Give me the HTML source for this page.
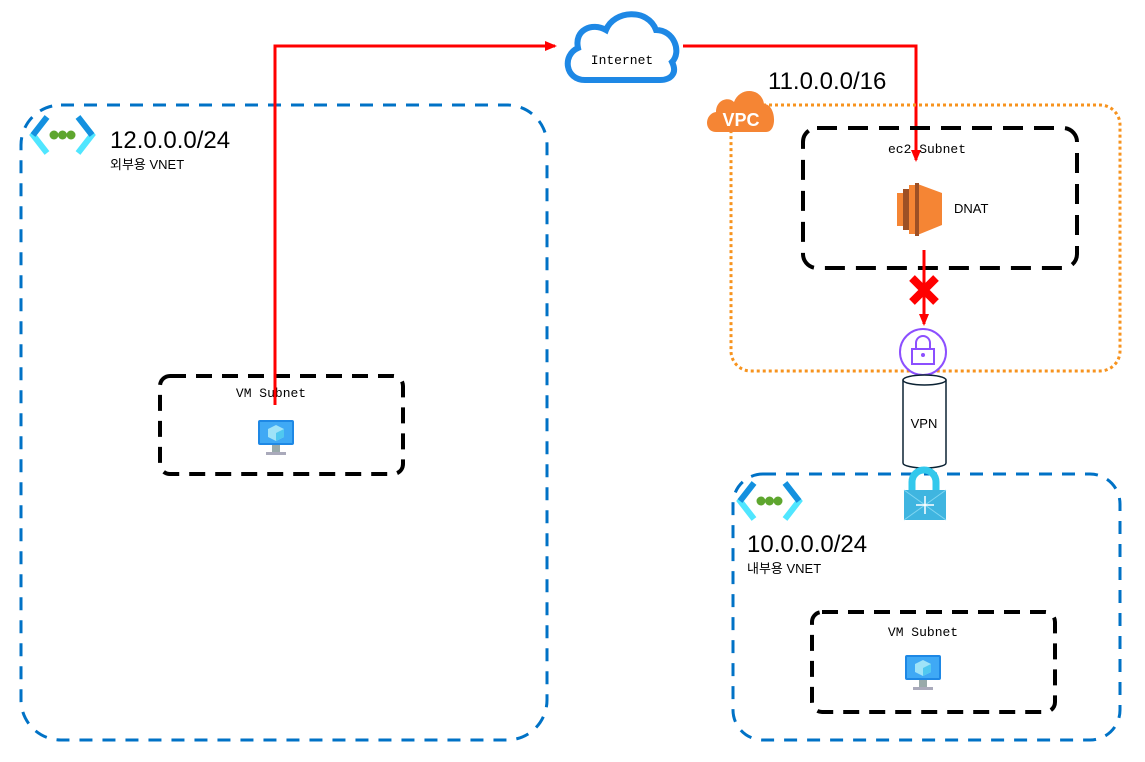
<!DOCTYPE html>
<html><head><meta charset="utf-8"><style>
body{margin:0;background:#fff;}
svg{display:block;}
.m{font-family:"Liberation Mono","Noto Sans CJK KR",monospace;}
.s{font-family:"Liberation Sans","Noto Sans CJK KR",sans-serif;}
</style></head><body>
<svg width="1145" height="762" viewBox="0 0 1145 762" xmlns="http://www.w3.org/2000/svg">
<defs>
<marker id="ar" markerWidth="12" markerHeight="12" refX="10" refY="6" orient="auto" markerUnits="userSpaceOnUse"><path d="M0,1 L12,6 L0,11 z" fill="#f00"/></marker>
<g id="vm">
<rect x="-18" y="-20" width="36" height="25" rx="2" fill="#1E88E5"/>
<rect x="-16" y="-18" width="32" height="21" fill="#3FA9F5"/>
<path d="M0,-15 L8,-11 L8,-3 L0,1 L-8,-3 L-8,-11z" fill="#9FE3F8"/>
<path d="M0,-7 L8,-11 L8,-3 L0,1z" fill="#50C8F0"/>
<rect x="-4" y="5" width="8" height="7" fill="#9aa"/>
<rect x="-10" y="12" width="20" height="3" fill="#aab"/>
</g>
<g id="net">
<path d="M17,3 L3,21 L17,39" fill="none" stroke="#50E6FF" stroke-width="6"/>
<path d="M17,3 L3,21" fill="none" stroke="#1490DF" stroke-width="6"/>
<path d="M48,3 L62,21 L48,39" fill="none" stroke="#50E6FF" stroke-width="6"/>
<path d="M48,3 L62,21" fill="none" stroke="#1490DF" stroke-width="6"/>
<circle cx="24" cy="21" r="4.5" fill="#5EA62E"/><circle cx="32.5" cy="21" r="4.5" fill="#5EA62E"/><circle cx="41" cy="21" r="4.5" fill="#5EA62E"/>
</g>
</defs>

<rect x="21" y="105" width="526" height="635" rx="40" fill="none" stroke="#0072C6" stroke-width="3" stroke-dasharray="13,10"/>
<use href="#net" x="30" y="114"/>
<text x="110" y="148" class="s" font-size="24">12.0.0.0/24</text>
<text x="110" y="169" class="s" font-size="13">외부용 VNET</text>

<rect x="160" y="376" width="243" height="98" rx="10" fill="none" stroke="#000" stroke-width="4" stroke-dasharray="16,10"/>
<text x="271" y="397" class="m" font-size="13" text-anchor="middle">VM Subnet</text>
<use href="#vm" x="276" y="440"/>

<polyline points="275,405 275,46 555,46" fill="none" stroke="#f00" stroke-width="3" marker-end="url(#ar)"/>

<path d="M585,80 C565,80 562,55 578,48 C574,30 592,22 606,30 C614,10 648,8 656,30 C674,30 682,52 672,62 C678,74 670,80 660,80 Z" fill="#fff" stroke="#1E88E5" stroke-width="6"/>
<text x="622" y="64" class="m" font-size="13" text-anchor="middle">Internet</text>

<polyline points="683,46 916,46 916,160" fill="none" stroke="#f00" stroke-width="3" marker-end="url(#ar)"/>

<rect x="731" y="105" width="389" height="266" rx="20" fill="none" stroke="#F7931E" stroke-width="3" stroke-dasharray="3,3"/>
<path d="M716,132 C704,132 704,114 716,112 C716,100 728,96 734,102 C740,86 762,88 764,104 C776,104 778,132 766,132 Z" fill="#F58534"/>
<text x="741" y="126" class="s" font-size="18" font-weight="bold" fill="#fff" text-anchor="middle">VPC</text>
<text x="768" y="89" class="s" font-size="24">11.0.0.0/16</text>

<rect x="803" y="128" width="274" height="140" rx="14" fill="none" stroke="#000" stroke-width="4" stroke-dasharray="20,11"/>
<text x="927" y="153" class="m" font-size="13" text-anchor="middle">ec2 Subnet</text>
<rect x="897" y="193" width="6" height="33" fill="#F58534"/>
<rect x="903" y="189" width="6" height="41" fill="#9D5025"/>
<rect x="909" y="185" width="6" height="49" fill="#F58534"/>
<path d="M915,183 L942,193 L942,225 L915,236 Z" fill="#F58534"/>
<rect x="915" y="183" width="4" height="53" fill="#9D5025"/>
<text x="954" y="213" class="s" font-size="13">DNAT</text>

<line x1="924" y1="250" x2="924" y2="324" stroke="#f00" stroke-width="3" marker-end="url(#ar)"/>
<path d="M912,278 L936,302 M936,278 L912,302" stroke="#f00" stroke-width="8"/>

<circle cx="923" cy="352" r="23" fill="#fff" stroke="#8C4FFF" stroke-width="2"/>
<rect x="912" y="349" width="22" height="15" fill="none" stroke="#8C4FFF" stroke-width="2"/>
<path d="M916,349 V343 A7,7 0 0 1 930,343 V349" fill="none" stroke="#8C4FFF" stroke-width="2"/>
<circle cx="923" cy="355" r="2" fill="#8C4FFF"/>

<path d="M903,380 V463 A21.5,5 0 0 0 946,463 V380" fill="#fff" stroke="#0B2233" stroke-width="1.5"/>
<ellipse cx="924.5" cy="380" rx="21.5" ry="5" fill="#fff" stroke="#0B2233" stroke-width="1.5"/>
<text x="924" y="428" class="s" font-size="13" text-anchor="middle">VPN</text>

<rect x="733" y="474" width="387" height="266" rx="30" fill="none" stroke="#0072C6" stroke-width="3" stroke-dasharray="13,10"/>
<use href="#net" x="737" y="480"/>
<text x="747" y="552" class="s" font-size="24">10.0.0.0/24</text>
<text x="747" y="573" class="s" font-size="13">내부용 VNET</text>

<path d="M912,492 V482 A12,12 0 0 1 936,482 V492" fill="none" stroke="#32C8EC" stroke-width="7"/>
<rect x="904" y="490" width="42" height="30" fill="#3FB5E0"/>
<path d="M904,490 L925,505 L946,490 M904,520 L925,505 L946,520" stroke="#7FD6F2" stroke-width="1" fill="none"/>
<path d="M925,496 V514 M916,505 H934" stroke="#fff" stroke-width="1.5"/>

<rect x="812" y="612" width="243" height="100" rx="10" fill="none" stroke="#000" stroke-width="4" stroke-dasharray="16,10"/>
<text x="923" y="636" class="m" font-size="13" text-anchor="middle">VM Subnet</text>
<use href="#vm" x="923" y="675"/>
</svg>
</body></html>
